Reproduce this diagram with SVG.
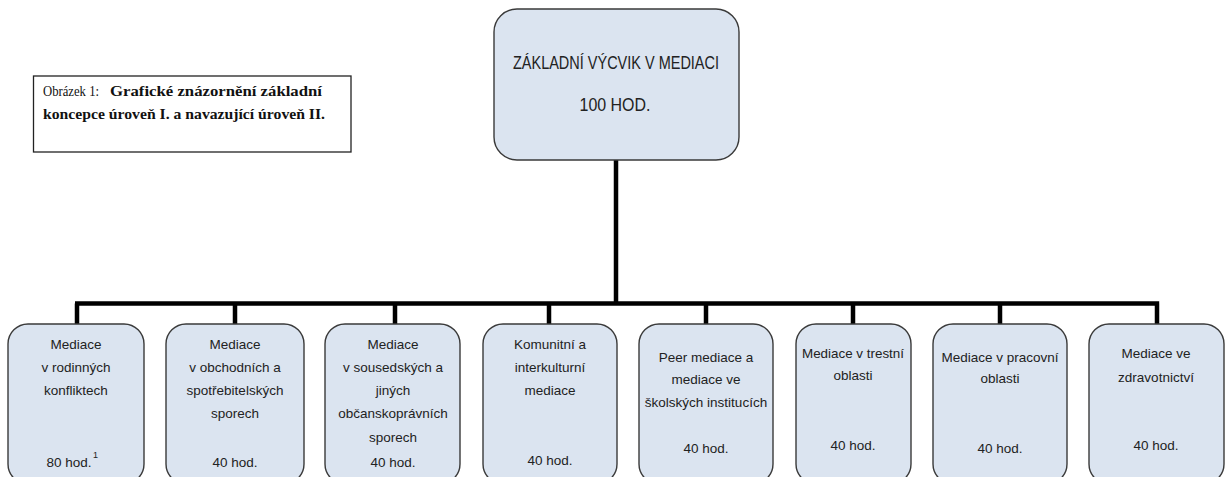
<svg xmlns="http://www.w3.org/2000/svg" width="1231" height="477" viewBox="0 0 1231 477">
<style>
.box{fill:#dbe4f0;stroke:#3a3a3a;stroke-width:1.4}
.t{font-family:"Liberation Sans",Arial,sans-serif;font-size:13.5px;fill:#222;text-anchor:middle}
.tt{font-family:"Liberation Sans",Arial,sans-serif;font-size:18px;fill:#222;text-anchor:middle}
.cap{font-family:"Liberation Serif","Times New Roman",serif;font-size:15px;fill:#111}
.b{font-weight:bold}
.conn{stroke:#000;stroke-width:4.5;fill:none}
</style>
<rect width="1231" height="477" fill="#fff"/>
<g id="caption">
<rect x="33.5" y="76" width="317.5" height="76" fill="#fff" stroke="#222" stroke-width="1.3"/>
<text class="cap" x="43" y="96" textLength="56" lengthAdjust="spacingAndGlyphs">Obrázek 1:</text>
<text class="cap b" x="110" y="96" textLength="212" lengthAdjust="spacingAndGlyphs">Grafické znázornění základní</text>
<text class="cap b" x="43" y="119" textLength="282" lengthAdjust="spacingAndGlyphs">koncepce úroveň I. a navazující úroveň II.</text>
</g>
<g id="connectors">
<path class="conn" d="M616 160V303.5M75 303.5H1159.2M77 303.5V324M235 303.5V324M395 303.5V324M549 303.5V324M706 303.5V324M853 303.5V324M1000 303.5V324M1157 303.5V324"/>
</g>
<g id="root">
<rect class="box" x="494" y="9" width="245" height="151" rx="23"/>
<text class="tt" x="616" y="69" textLength="206" lengthAdjust="spacingAndGlyphs">ZÁKLADNÍ VÝCVIK V MEDIACI</text>
<text class="tt" x="615" y="111" textLength="71" lengthAdjust="spacingAndGlyphs">100 HOD.</text>
</g>
<g id="n1">
<rect class="box" x="8" y="324" width="136" height="160" rx="20"/>
<text class="t" x="76" y="349">Mediace</text>
<text class="t" x="76" y="372">v rodinných</text>
<text class="t" x="76" y="395">konfliktech</text>
<text class="t" x="69" y="467">80 hod.</text>
<text x="95.5" y="458" style="font-family:'Liberation Sans',Arial,sans-serif;font-size:9px;fill:#222;text-anchor:middle">1</text>
</g>
<g id="n2">
<rect class="box" x="166" y="324" width="138" height="160" rx="20"/>
<text class="t" x="235" y="349">Mediace</text>
<text class="t" x="235" y="372">v obchodních a</text>
<text class="t" x="235" y="395">spotřebitelských</text>
<text class="t" x="235" y="418">sporech</text>
<text class="t" x="235" y="467">40 hod.</text>
</g>
<g id="n3">
<rect class="box" x="325" y="324" width="135" height="160" rx="20"/>
<text class="t" x="393" y="349">Mediace</text>
<text class="t" x="393" y="372">v sousedských a</text>
<text class="t" x="393" y="395">jiných</text>
<text class="t" x="393" y="418">občanskoprávních</text>
<text class="t" x="393" y="442">sporech</text>
<text class="t" x="393" y="467">40 hod.</text>
</g>
<g id="n4">
<rect class="box" x="483" y="324" width="134" height="160" rx="20"/>
<text class="t" x="550" y="349">Komunitní a</text>
<text class="t" x="550" y="372">interkulturní</text>
<text class="t" x="550" y="395">mediace</text>
<text class="t" x="550" y="465">40 hod.</text>
</g>
<g id="n5">
<rect class="box" x="639" y="324" width="134" height="160" rx="20"/>
<text class="t" x="706" y="362">Peer mediace a</text>
<text class="t" x="706" y="384">mediace ve</text>
<text class="t" x="706" y="407">školských institucích</text>
<text class="t" x="706" y="453">40 hod.</text>
</g>
<g id="n6">
<rect class="box" x="796" y="324" width="115" height="160" rx="20"/>
<text class="t" x="853" y="358" textLength="102" lengthAdjust="spacingAndGlyphs">Mediace v trestní</text>
<text class="t" x="853" y="380">oblasti</text>
<text class="t" x="853" y="450">40 hod.</text>
</g>
<g id="n7">
<rect class="box" x="933" y="324" width="134" height="160" rx="20"/>
<text class="t" x="1000" y="362">Mediace v pracovní</text>
<text class="t" x="1000" y="383">oblasti</text>
<text class="t" x="1000" y="453">40 hod.</text>
</g>
<g id="n8">
<rect class="box" x="1089" y="324" width="135" height="160" rx="20"/>
<text class="t" x="1156" y="358">Mediace ve</text>
<text class="t" x="1156" y="382">zdravotnictví</text>
<text class="t" x="1156" y="450">40 hod.</text>
</g>
</svg>
